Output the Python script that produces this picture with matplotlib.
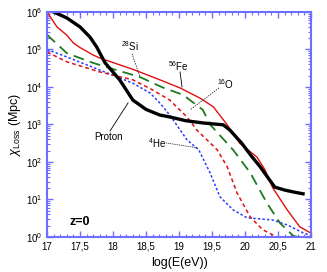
import matplotlib
matplotlib.use("Agg")
import matplotlib.pyplot as plt
import numpy as np
from matplotlib.ticker import FixedLocator, FuncFormatter, LogLocator, NullFormatter

plt.rcParams["font.family"] = ["Liberation Sans", "DejaVu Sans"]
plt.rcParams["mathtext.fontset"] = "custom"
plt.rcParams["mathtext.rm"] = "Liberation Sans"
plt.rcParams["mathtext.it"] = "Liberation Sans:italic"

# log10(E/eV) and log10(loss length / Mpc)
proton_x = [17.1, 17.3, 17.5, 17.65, 17.75, 17.88, 18.1, 18.3, 18.5, 18.71, 18.86, 19.1, 19.36, 19.67, 19.77, 19.95, 20.1, 20.23, 20.45, 20.6, 20.73, 20.88]
proton_y = [6.0, 5.84, 5.6, 5.33, 5.07, 4.64, 4.19, 3.65, 3.4, 3.25, 3.2, 3.1, 3.04, 2.99, 2.85, 2.5, 2.15, 1.87, 1.33, 1.25, 1.2, 1.15]

fe_x = [17.0, 17.15, 17.3, 17.4, 17.5, 17.7, 17.8, 18.3, 18.71, 19.02, 19.32, 19.52, 19.73, 19.92, 20.18, 20.3, 20.42, 20.64, 20.83, 21.0]
fe_y = [6.0, 5.6, 5.38, 5.17, 5.05, 4.85, 4.77, 4.47, 4.19, 3.97, 3.7, 3.47, 2.99, 2.5, 2.13, 1.8, 1.31, 0.72, 0.27, 0.1]

si_x = [17.0, 17.3, 17.7, 18.05, 18.4, 18.76, 19.06, 19.36, 19.47, 19.82, 20.08, 20.33, 20.53, 20.73, 20.8]
si_y = [5.39, 4.9, 4.64, 4.45, 4.27, 3.98, 3.79, 3.39, 3.0, 2.32, 1.71, 0.91, 0.37, 0.03, 0.0]

o_x = [17.0, 17.3, 17.8, 18.3, 18.6, 18.86, 19.12, 19.27, 19.58, 19.73, 19.88, 20.08, 20.27, 20.48]
o_y = [4.93, 4.67, 4.4, 4.19, 3.92, 3.65, 3.2, 2.85, 2.32, 1.87, 1.17, 0.53, 0.19, 0.0]

he_x = [17.0, 17.3, 17.8, 18.3, 18.56, 18.71, 18.86, 19.12, 19.3, 19.47, 19.62, 19.82, 20.03, 20.23, 20.42, 20.64, 20.88, 21.0]
he_y = [5.0, 4.8, 4.45, 4.1, 3.84, 3.57, 3.25, 2.59, 2.32, 1.71, 1.07, 0.72, 0.51, 0.48, 0.45, 0.32, 0.11, 0.03]

x_ticks = [17, 17.5, 18, 18.5, 19, 19.5, 20, 20.5, 21]

axis_blue = "#6f6fff"

fig = plt.figure(figsize=(3.27, 2.72), dpi=100)
ax = fig.add_axes([0.144, 0.129, 0.807, 0.827])

ax.plot(he_x, 10 ** np.array(he_y), color="#2a3cff", lw=1.1, dashes=(1.6, 1.4))
ax.plot(o_x, 10 ** np.array(o_y), color="#e01010", lw=1.1, dashes=(2.5, 2.0))
ax.plot(si_x, 10 ** np.array(si_y), color="#1d7a1d", lw=1.3, dashes=(6, 3.5))
ax.plot(fe_x, 10 ** np.array(fe_y), color="#e01010", lw=1.0)
ax.plot(proton_x, 10 ** np.array(proton_y), color="black", lw=2.4)

ax.set_yscale("log")
ax.set_xlim(17, 21)
ax.set_ylim(1, 1e6)

ax.xaxis.set_major_locator(FixedLocator(x_ticks))
ax.xaxis.set_minor_locator(FixedLocator(np.arange(17, 21.01, 0.1)))
ax.xaxis.set_major_formatter(FuncFormatter(lambda v, p: f"{v:g}".replace(".", ",")))
ax.yaxis.set_major_locator(LogLocator(base=10, numticks=10))
ax.yaxis.set_minor_locator(LogLocator(base=10, subs=np.arange(2, 10), numticks=20))
ax.yaxis.set_minor_formatter(NullFormatter())
ax.yaxis.set_major_formatter(FuncFormatter(lambda v, p: f"$10^{{{int(round(np.log10(v)))}}}$"))

for s in ax.spines.values():
    s.set_color(axis_blue)
    s.set_linewidth(1.5)
ax.tick_params(which="both", direction="in", top=True, right=True, colors=axis_blue,
               labelcolor="black", labelsize=7)
ax.tick_params(which="major", length=4, width=1)
ax.tick_params(which="minor", length=2, width=0.8)

ax.set_xlabel("log(E(eV))", fontsize=9, labelpad=4)
ax.set_ylabel(r"$\chi_{\rm Loss}$ (Mpc)", fontsize=9, labelpad=2)

def lx(px):
    return 17 + (px - 47) / 66.0

def ly(py):
    return 10 ** (6 - (py - 12) / 37.5)

ax.text(lx(130), ly(46), r"$^{28}$Si", fontsize=7, ha="center", va="center")
ax.plot([lx(132), lx(140)], [ly(54), ly(77)], color="black", lw=0.5, dashes=(2, 1.5))
ax.text(lx(178), ly(66), r"$^{56}$Fe", fontsize=7, ha="center", va="center")
ax.plot([lx(180), lx(182)], [ly(72), ly(87)], color="black", lw=0.6)
ax.text(lx(226), ly(84), r"$^{16}$O", fontsize=7, ha="center", va="center")
ax.plot([lx(219), lx(190)], [ly(88), ly(110)], color="black", lw=0.5, dashes=(2, 1.5))
ax.text(lx(108), ly(137), "Proton", fontsize=7, ha="center", va="center")
ax.plot([lx(110), lx(128)], [ly(131), ly(103)], color="black", lw=0.6)
ax.text(lx(157), ly(143), r"$^{4}$He", fontsize=7, ha="center", va="center")
ax.plot([lx(166), lx(198)], [ly(143), ly(148)], color="black", lw=0.5, dashes=(1.5, 1.2))
ax.text(lx(80), ly(222), "z=0", fontsize=9, fontweight="bold", ha="center", va="center")

fig.savefig("out.png", dpi=100)
